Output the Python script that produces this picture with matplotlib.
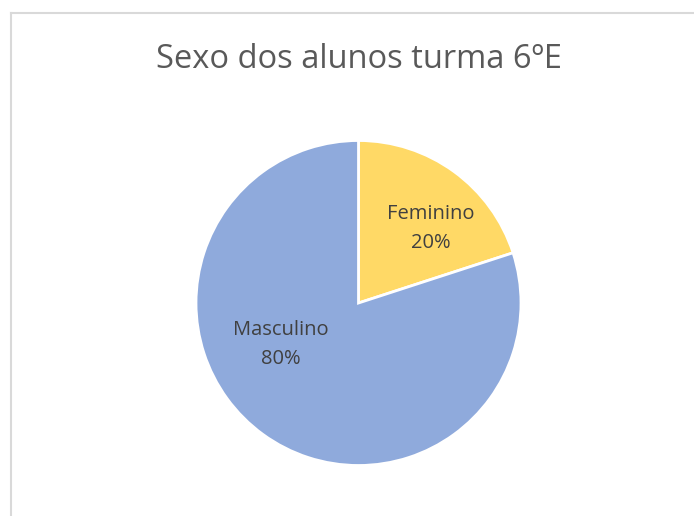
import matplotlib.pyplot as plt
from matplotlib.lines import Line2D

# data
labels = ["Feminino", "Masculino"]
values = [20, 80]
colors = ["#FFD966", "#8FAADC"]

W, H = 694, 516
fig = plt.figure(figsize=(W / 100, H / 100), dpi=100)

# chart border (only top and left visible in the crop)
fig.add_artist(Line2D([11 / W, 11 / W], [0, 1 - 13 / H], color="#D9D9D9", lw=1.5))
fig.add_artist(Line2D([11 / W, 1], [1 - 13 / H, 1 - 13 / H], color="#D9D9D9", lw=1.5))

# pie centre ~ (358, 303), radius ~162 px
cx, cy, r = 358.5, 303, 162.5
ax = fig.add_axes([(cx - r) / W, 1 - (cy + r) / H, 2 * r / W, 2 * r / H])

wedges, texts = ax.pie(
    values,
    colors=colors,
    startangle=90,
    counterclock=False,
    radius=1,
    wedgeprops=dict(edgecolor="white", linewidth=2),
)
ax.set_xlim(-1, 1)
ax.set_ylim(-1, 1)
ax.set_aspect("equal")
ax.axis("off")

# labels, placed like Excel does (inside, at the best fit spot)
pos = [(0.446, 0.459), (-0.477, -0.255)]
for lab, v, (x, y) in zip(labels, values, pos):
    ax.text(x, y, f"{lab}\n{v}%", ha="center", va="center",
            fontsize=14.5, color="#404040", family="Open Sans", linespacing=1.6)

fig.text(359 / W, 1 - 60 / H, "Sexo dos alunos turma 6ºE", ha="center", va="center",
         fontsize=23.5, color="#595959", family="Open Sans")

fig.savefig("out.png", dpi=100)
